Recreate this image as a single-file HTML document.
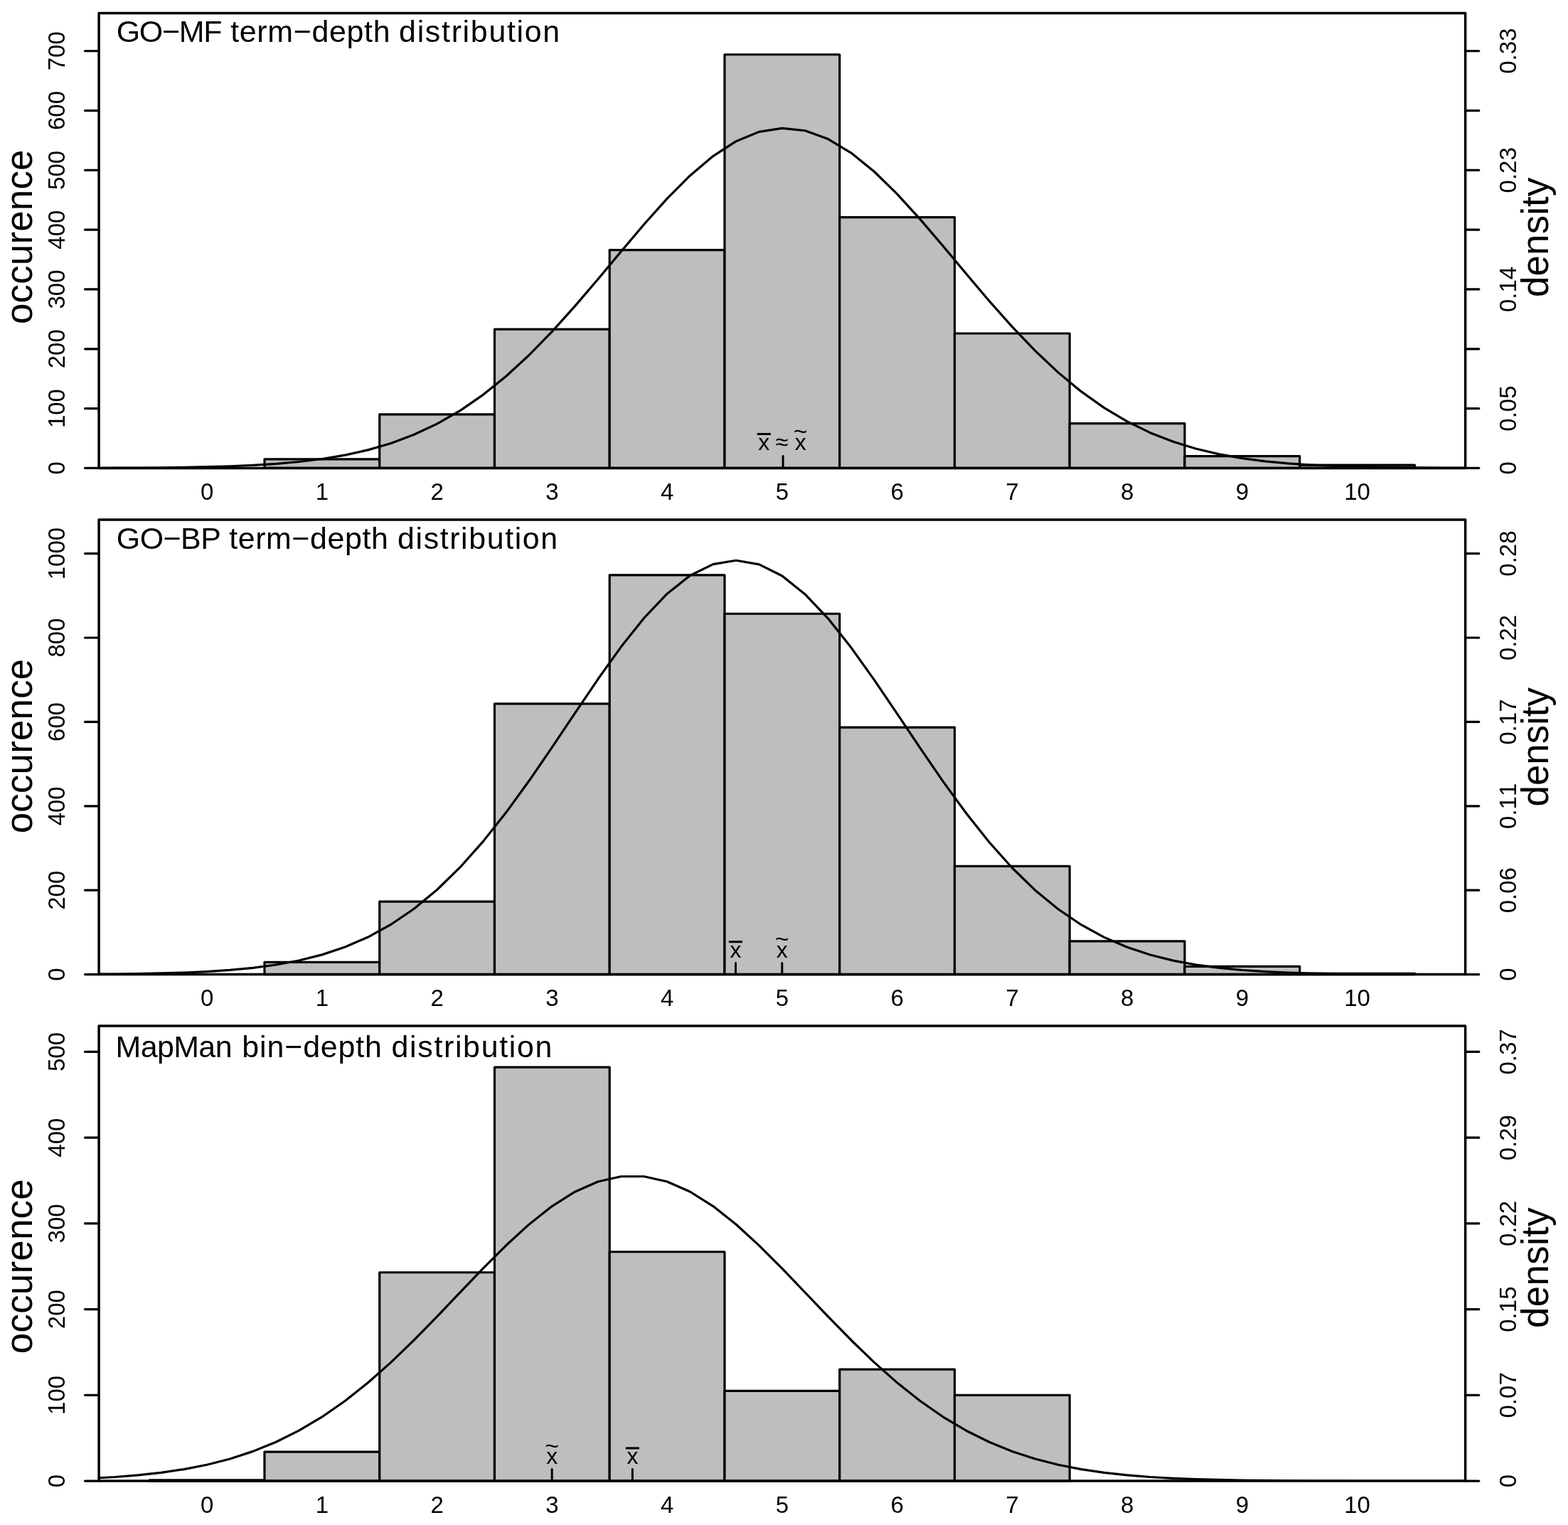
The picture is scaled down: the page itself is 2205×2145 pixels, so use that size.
<!DOCTYPE html><html><head><meta charset="utf-8"><title>term-depth distributions</title><style>html,body{margin:0;padding:0;background:#fff}svg{display:block}text{font-family:"Liberation Sans", Arial, Helvetica, sans-serif;font-kerning:none;fill:#000}</style></head><body><svg width="2205" height="2145" viewBox="0 0 2205 2145"><rect width="2205" height="2145" fill="#fff"/><clipPath id="c0"><rect x="139.06" y="18.60" width="1921.59" height="639.80"/></clipPath><g fill="#bebebe" stroke="#000" stroke-width="3.2" stroke-linejoin="round"><rect x="210.23" y="658.40" width="161.75" height="0.00"/><rect x="371.98" y="645.83" width="161.75" height="12.57"/><rect x="533.73" y="582.97" width="161.75" height="75.43"/><rect x="695.48" y="463.12" width="161.75" height="195.28"/><rect x="857.23" y="351.66" width="161.75" height="306.74"/><rect x="1018.98" y="76.76" width="161.75" height="581.64"/><rect x="1180.72" y="305.56" width="161.75" height="352.84"/><rect x="1342.47" y="468.99" width="161.75" height="189.41"/><rect x="1504.22" y="595.54" width="161.75" height="62.86"/><rect x="1665.97" y="641.64" width="161.75" height="16.76"/><rect x="1827.72" y="654.21" width="161.75" height="4.19"/></g><polyline clip-path="url(#c0)" points="129.35,658.26 161.70,658.15 194.05,657.99 226.40,657.73 258.75,657.32 291.10,656.69 323.45,655.75 355.80,654.36 388.15,652.34 420.50,649.48 452.85,645.51 485.20,640.10 517.55,632.87 549.90,623.42 582.25,611.32 614.60,596.17 646.95,577.59 679.30,555.33 711.65,529.28 744.00,499.50 776.35,466.32 808.70,430.34 841.05,392.42 873.40,353.69 905.75,315.51 938.10,279.40 970.45,246.91 1002.80,219.57 1035.15,198.70 1067.50,185.39 1099.85,180.32 1132.20,183.77 1164.55,195.55 1196.90,215.04 1229.25,241.24 1261.60,272.86 1293.95,308.40 1326.30,346.30 1358.65,385.04 1391.00,423.21 1423.35,459.64 1455.70,493.41 1488.05,523.87 1520.40,550.65 1552.75,573.63 1585.10,592.89 1617.45,608.68 1649.80,621.33 1682.15,631.25 1714.50,638.87 1746.85,644.60 1779.20,648.82 1811.55,651.87 1843.90,654.03 1876.25,655.52 1908.60,656.54 1940.95,657.22 1973.30,657.66 2005.65,657.95 2038.00,658.13 2070.35,658.24" fill="none" stroke="#000" stroke-width="3.2" stroke-linejoin="round" stroke-linecap="round"/><rect x="139.06" y="18.60" width="1921.59" height="639.80" fill="none" stroke="#000" stroke-width="3.5" stroke-linejoin="round"/><path d="M119.56 658.40H139.06M2060.64 658.40H2079.84M119.56 574.59H139.06M2060.64 574.59H2079.84M119.56 490.78H139.06M2060.64 490.78H2079.84M119.56 406.97H139.06M2060.64 406.97H2079.84M119.56 323.16H139.06M2060.64 323.16H2079.84M119.56 239.35H139.06M2060.64 239.35H2079.84M119.56 155.54H139.06M2060.64 155.54H2079.84M119.56 71.74H139.06M2060.64 71.74H2079.84" stroke="#000" stroke-width="3.2" stroke-linecap="round" fill="none"/><text font-size="33" text-anchor="middle" transform="translate(91.4 658.40) rotate(-90)">0</text><text font-size="33" text-anchor="middle" transform="translate(91.4 574.59) rotate(-90)">100</text><text font-size="33" text-anchor="middle" transform="translate(91.4 490.78) rotate(-90)">200</text><text font-size="33" text-anchor="middle" transform="translate(91.4 406.97) rotate(-90)">300</text><text font-size="33" text-anchor="middle" transform="translate(91.4 323.16) rotate(-90)">400</text><text font-size="33" text-anchor="middle" transform="translate(91.4 239.35) rotate(-90)">500</text><text font-size="33" text-anchor="middle" transform="translate(91.4 155.54) rotate(-90)">600</text><text font-size="33" text-anchor="middle" transform="translate(91.4 71.74) rotate(-90)">700</text><text font-size="33" text-anchor="middle" transform="translate(2131.8 658.40) rotate(-90)">0</text><text font-size="33" text-anchor="middle" transform="translate(2131.8 574.59) rotate(-90)">0.05</text><text font-size="33" text-anchor="middle" transform="translate(2131.8 406.97) rotate(-90)">0.14</text><text font-size="33" text-anchor="middle" transform="translate(2131.8 239.35) rotate(-90)">0.23</text><text font-size="33" text-anchor="middle" transform="translate(2131.8 71.74) rotate(-90)">0.33</text><text font-size="33" text-anchor="middle" x="291.10" y="703.00">0</text><text font-size="33" text-anchor="middle" x="452.85" y="703.00">1</text><text font-size="33" text-anchor="middle" x="614.60" y="703.00">2</text><text font-size="33" text-anchor="middle" x="776.35" y="703.00">3</text><text font-size="33" text-anchor="middle" x="938.10" y="703.00">4</text><text font-size="33" text-anchor="middle" x="1099.85" y="703.00">5</text><text font-size="33" text-anchor="middle" x="1261.60" y="703.00">6</text><text font-size="33" text-anchor="middle" x="1423.35" y="703.00">7</text><text font-size="33" text-anchor="middle" x="1585.10" y="703.00">8</text><text font-size="33" text-anchor="middle" x="1746.85" y="703.00">9</text><text font-size="33" text-anchor="middle" x="1908.60" y="703.00">10</text><text font-size="42.9" y="59.10"><tspan x="163.74" textLength="148.68" lengthAdjust="spacing">GO−MF</tspan> <tspan x="324.25" textLength="224.24" lengthAdjust="spacing">term−depth</tspan> <tspan x="561.10" textLength="226.09" lengthAdjust="spacing">distribution</tspan></text><text font-size="53" textLength="245.58" lengthAdjust="spacing" transform="translate(45.2 456.03) rotate(-90)">occurence</text><text font-size="53" textLength="168.23" lengthAdjust="spacing" transform="translate(2176.5 417.93) rotate(-90)">density</text><text font-size="32" text-anchor="middle" x="1074.30" y="632.70">x</text><path d="M1064.70 610.50H1083.90" stroke="#000" stroke-width="3"/><text font-size="33" text-anchor="middle" x="1099.60" y="632.70">≈</text><text font-size="32" text-anchor="middle" x="1125.65" y="632.70">x</text><text font-size="34" text-anchor="middle" x="1125.65" y="618.19">~</text><path d="M1101.10 641.60V658.40" stroke="#000" stroke-width="3" stroke-linecap="round"/><clipPath id="c1"><rect x="139.06" y="731.00" width="1921.59" height="639.60"/></clipPath><g fill="#bebebe" stroke="#000" stroke-width="3.2" stroke-linejoin="round"><rect x="210.23" y="1370.60" width="161.75" height="0.00"/><rect x="371.98" y="1353.43" width="161.75" height="17.17"/><rect x="533.73" y="1268.18" width="161.75" height="102.42"/><rect x="695.48" y="989.94" width="161.75" height="380.66"/><rect x="857.23" y="808.79" width="161.75" height="561.81"/><rect x="1018.98" y="863.25" width="161.75" height="507.35"/><rect x="1180.72" y="1023.09" width="161.75" height="347.51"/><rect x="1342.47" y="1218.46" width="161.75" height="152.14"/><rect x="1504.22" y="1323.83" width="161.75" height="46.77"/><rect x="1665.97" y="1359.35" width="161.75" height="11.25"/><rect x="1827.72" y="1369.42" width="161.75" height="1.18"/></g><polyline clip-path="url(#c1)" points="129.35,1370.23 161.70,1369.98 194.05,1369.59 226.40,1368.96 258.75,1368.01 291.10,1366.56 323.45,1364.44 355.80,1361.37 388.15,1357.03 420.50,1351.02 452.85,1342.87 485.20,1332.06 517.55,1318.04 549.90,1300.26 582.25,1278.21 614.60,1251.52 646.95,1219.97 679.30,1183.63 711.65,1142.83 744.00,1098.31 776.35,1051.15 808.70,1002.81 841.05,955.05 873.40,909.84 905.75,869.23 938.10,835.22 970.45,809.55 1002.80,793.61 1035.15,788.28 1067.50,793.85 1099.85,810.02 1132.20,835.89 1164.55,870.07 1196.90,910.81 1229.25,956.10 1261.60,1003.89 1293.95,1052.22 1326.30,1099.33 1358.65,1143.78 1391.00,1184.48 1423.35,1220.73 1455.70,1252.16 1488.05,1278.75 1520.40,1300.70 1552.75,1318.39 1585.10,1332.33 1617.45,1343.07 1649.80,1351.17 1682.15,1357.14 1714.50,1361.45 1746.85,1364.50 1779.20,1366.60 1811.55,1368.03 1843.90,1368.98 1876.25,1369.60 1908.60,1369.99 1940.95,1370.24 1973.30,1370.39 2005.65,1370.48 2038.00,1370.53 2070.35,1370.56" fill="none" stroke="#000" stroke-width="3.2" stroke-linejoin="round" stroke-linecap="round"/><rect x="139.06" y="731.00" width="1921.59" height="639.60" fill="none" stroke="#000" stroke-width="3.5" stroke-linejoin="round"/><path d="M119.56 1370.60H139.06M2060.64 1370.60H2079.84M119.56 1252.20H139.06M2060.64 1252.20H2079.84M119.56 1133.80H139.06M2060.64 1133.80H2079.84M119.56 1015.40H139.06M2060.64 1015.40H2079.84M119.56 897.00H139.06M2060.64 897.00H2079.84M119.56 778.60H139.06M2060.64 778.60H2079.84" stroke="#000" stroke-width="3.2" stroke-linecap="round" fill="none"/><text font-size="33" text-anchor="middle" transform="translate(91.4 1370.60) rotate(-90)">0</text><text font-size="33" text-anchor="middle" transform="translate(91.4 1252.20) rotate(-90)">200</text><text font-size="33" text-anchor="middle" transform="translate(91.4 1133.80) rotate(-90)">400</text><text font-size="33" text-anchor="middle" transform="translate(91.4 1015.40) rotate(-90)">600</text><text font-size="33" text-anchor="middle" transform="translate(91.4 897.00) rotate(-90)">800</text><text font-size="33" text-anchor="middle" transform="translate(91.4 778.60) rotate(-90)">1000</text><text font-size="33" text-anchor="middle" transform="translate(2131.8 1370.60) rotate(-90)">0</text><text font-size="33" text-anchor="middle" transform="translate(2131.8 1252.20) rotate(-90)">0.06</text><text font-size="33" text-anchor="middle" transform="translate(2131.8 1133.80) rotate(-90)">0.11</text><text font-size="33" text-anchor="middle" transform="translate(2131.8 1015.40) rotate(-90)">0.17</text><text font-size="33" text-anchor="middle" transform="translate(2131.8 897.00) rotate(-90)">0.22</text><text font-size="33" text-anchor="middle" transform="translate(2131.8 778.60) rotate(-90)">0.28</text><text font-size="33" text-anchor="middle" x="291.10" y="1415.30">0</text><text font-size="33" text-anchor="middle" x="452.85" y="1415.30">1</text><text font-size="33" text-anchor="middle" x="614.60" y="1415.30">2</text><text font-size="33" text-anchor="middle" x="776.35" y="1415.30">3</text><text font-size="33" text-anchor="middle" x="938.10" y="1415.30">4</text><text font-size="33" text-anchor="middle" x="1099.85" y="1415.30">5</text><text font-size="33" text-anchor="middle" x="1261.60" y="1415.30">6</text><text font-size="33" text-anchor="middle" x="1423.35" y="1415.30">7</text><text font-size="33" text-anchor="middle" x="1585.10" y="1415.30">8</text><text font-size="33" text-anchor="middle" x="1746.85" y="1415.30">9</text><text font-size="33" text-anchor="middle" x="1908.60" y="1415.30">10</text><text font-size="42.9" y="771.50"><tspan x="163.84" textLength="146.92" lengthAdjust="spacing">GO−BP</tspan> <tspan x="322.15" textLength="223.64" lengthAdjust="spacing">term−depth</tspan> <tspan x="559.10" textLength="224.99" lengthAdjust="spacing">distribution</tspan></text><text font-size="53" textLength="245.58" lengthAdjust="spacing" transform="translate(45.2 1172.33) rotate(-90)">occurence</text><text font-size="53" textLength="167.53" lengthAdjust="spacing" transform="translate(2176.5 1134.53) rotate(-90)">density</text><text font-size="32" text-anchor="middle" x="1034.50" y="1346.90">x</text><path d="M1024.90 1324.70H1044.10" stroke="#000" stroke-width="3"/><text font-size="32" text-anchor="middle" x="1099.80" y="1346.90">x</text><text font-size="34" text-anchor="middle" x="1099.80" y="1332.39">~</text><path d="M1034.50 1354.60V1370.60M1099.80 1354.60V1370.60" stroke="#000" stroke-width="3" stroke-linecap="round"/><clipPath id="c2"><rect x="139.06" y="1443.00" width="1921.59" height="640.10"/></clipPath><g fill="#bebebe" stroke="#000" stroke-width="3.2" stroke-linejoin="round"><rect x="210.23" y="2081.89" width="161.75" height="1.21"/><rect x="371.98" y="2042.05" width="161.75" height="41.05"/><rect x="533.73" y="1789.73" width="161.75" height="293.37"/><rect x="695.48" y="1501.19" width="161.75" height="581.91"/><rect x="857.23" y="1760.76" width="161.75" height="322.34"/><rect x="1018.98" y="1956.34" width="161.75" height="126.76"/><rect x="1180.72" y="1926.15" width="161.75" height="156.95"/><rect x="1342.47" y="1962.37" width="161.75" height="120.73"/><rect x="1504.22" y="2083.10" width="161.75" height="0.00"/><rect x="1665.97" y="2083.10" width="161.75" height="0.00"/><rect x="1827.72" y="2083.10" width="161.75" height="0.00"/></g><polyline clip-path="url(#c2)" points="129.35,2079.31 161.70,2077.48 194.05,2074.90 226.40,2071.36 258.75,2066.56 291.10,2060.20 323.45,2051.93 355.80,2041.39 388.15,2028.24 420.50,2012.17 452.85,1992.95 485.20,1970.46 517.55,1944.76 549.90,1916.08 582.25,1884.88 614.60,1851.85 646.95,1817.89 679.30,1784.11 711.65,1751.76 744.00,1722.14 776.35,1696.55 808.70,1676.17 841.05,1662.00 873.40,1654.74 905.75,1654.75 938.10,1662.03 970.45,1676.23 1002.80,1696.62 1035.15,1722.22 1067.50,1751.85 1099.85,1784.21 1132.20,1817.99 1164.55,1851.95 1196.90,1884.98 1229.25,1916.17 1261.60,1944.84 1293.95,1970.53 1326.30,1993.01 1358.65,2012.22 1391.00,2028.28 1423.35,2041.42 1455.70,2051.95 1488.05,2060.22 1520.40,2066.57 1552.75,2071.37 1585.10,2074.91 1617.45,2077.48 1649.80,2079.31 1682.15,2080.59 1714.50,2081.46 1746.85,2082.05 1779.20,2082.44 1811.55,2082.69 1843.90,2082.85 1876.25,2082.95 1908.60,2083.01 1940.95,2083.05 1973.30,2083.07 2005.65,2083.08 2038.00,2083.09 2070.35,2083.10" fill="none" stroke="#000" stroke-width="3.2" stroke-linejoin="round" stroke-linecap="round"/><rect x="139.06" y="1443.00" width="1921.59" height="640.10" fill="none" stroke="#000" stroke-width="3.5" stroke-linejoin="round"/><path d="M119.56 2083.10H139.06M2060.64 2083.10H2079.84M119.56 1962.37H139.06M2060.64 1962.37H2079.84M119.56 1841.64H139.06M2060.64 1841.64H2079.84M119.56 1720.92H139.06M2060.64 1720.92H2079.84M119.56 1600.19H139.06M2060.64 1600.19H2079.84M119.56 1479.46H139.06M2060.64 1479.46H2079.84" stroke="#000" stroke-width="3.2" stroke-linecap="round" fill="none"/><text font-size="33" text-anchor="middle" transform="translate(91.4 2083.10) rotate(-90)">0</text><text font-size="33" text-anchor="middle" transform="translate(91.4 1962.37) rotate(-90)">100</text><text font-size="33" text-anchor="middle" transform="translate(91.4 1841.64) rotate(-90)">200</text><text font-size="33" text-anchor="middle" transform="translate(91.4 1720.92) rotate(-90)">300</text><text font-size="33" text-anchor="middle" transform="translate(91.4 1600.19) rotate(-90)">400</text><text font-size="33" text-anchor="middle" transform="translate(91.4 1479.46) rotate(-90)">500</text><text font-size="33" text-anchor="middle" transform="translate(2131.8 2083.10) rotate(-90)">0</text><text font-size="33" text-anchor="middle" transform="translate(2131.8 1962.37) rotate(-90)">0.07</text><text font-size="33" text-anchor="middle" transform="translate(2131.8 1841.64) rotate(-90)">0.15</text><text font-size="33" text-anchor="middle" transform="translate(2131.8 1720.92) rotate(-90)">0.22</text><text font-size="33" text-anchor="middle" transform="translate(2131.8 1600.19) rotate(-90)">0.29</text><text font-size="33" text-anchor="middle" transform="translate(2131.8 1479.46) rotate(-90)">0.37</text><text font-size="33" text-anchor="middle" x="291.10" y="2127.60">0</text><text font-size="33" text-anchor="middle" x="452.85" y="2127.60">1</text><text font-size="33" text-anchor="middle" x="614.60" y="2127.60">2</text><text font-size="33" text-anchor="middle" x="776.35" y="2127.60">3</text><text font-size="33" text-anchor="middle" x="938.10" y="2127.60">4</text><text font-size="33" text-anchor="middle" x="1099.85" y="2127.60">5</text><text font-size="33" text-anchor="middle" x="1261.60" y="2127.60">6</text><text font-size="33" text-anchor="middle" x="1423.35" y="2127.60">7</text><text font-size="33" text-anchor="middle" x="1585.10" y="2127.60">8</text><text font-size="33" text-anchor="middle" x="1746.85" y="2127.60">9</text><text font-size="33" text-anchor="middle" x="1908.60" y="2127.60">10</text><text font-size="42.9" y="1487.00"><tspan x="162.48" textLength="164.01" lengthAdjust="spacing">MapMan</tspan> <tspan x="340.33" textLength="196.65" lengthAdjust="spacing">bin−depth</tspan> <tspan x="550.60" textLength="225.69" lengthAdjust="spacing">distribution</tspan></text><text font-size="53" textLength="245.88" lengthAdjust="spacing" transform="translate(45.2 1904.13) rotate(-90)">occurence</text><text font-size="53" textLength="169.53" lengthAdjust="spacing" transform="translate(2176.5 1867.93) rotate(-90)">density</text><text font-size="32" text-anchor="middle" x="889.40" y="2059.10">x</text><path d="M879.80 2036.90H899.00" stroke="#000" stroke-width="3"/><text font-size="32" text-anchor="middle" x="776.20" y="2059.10">x</text><text font-size="34" text-anchor="middle" x="776.20" y="2044.59">~</text><path d="M889.40 2066.40V2083.10M776.20 2066.40V2083.10" stroke="#000" stroke-width="3" stroke-linecap="round"/></svg></body></html>
